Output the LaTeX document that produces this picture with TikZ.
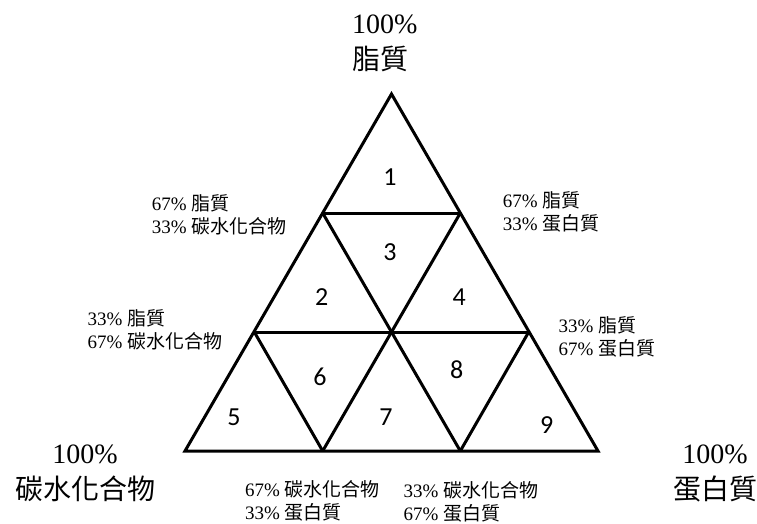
\documentclass[tikz,border=0pt]{standalone}
\usepackage{fontspec}
\setmainfont{Liberation Serif}
\newfontfamily\cjk{Noto Sans CJK TC}
\newfontfamily\numfont{Carlito}
\usetikzlibrary{calc}

\tikzset{
  edge/.style={line width=3pt,line join=miter},
  num/.style={inner sep=0pt,font=\numfont\fontsize{26}{26}\selectfont},
  share/.style={align=left,anchor=west,inner sep=0pt,font=\fontsize{19}{23}\selectfont},
  pure/.style={align=center,inner sep=0pt,font=\fontsize{28}{36}\selectfont}
}

\begin{document}
\begin{tikzpicture}[x=1pt,y=-1pt]
\useasboundingbox (0,0) rectangle (757,524);

% Grid points
\coordinate (top) at (391.5,94);
\coordinate (l1) at (322.7,213); \coordinate (r1) at (460.3,213);
\coordinate (l2) at (254.3,332); \coordinate (m2) at (391.5,332); \coordinate (r2) at (528.7,332);
\coordinate (l3) at (185,451); \coordinate (a3) at (322.7,451);
\coordinate (b3) at (460.3,451); \coordinate (r3) at (598,451);

% Outer triangle and inner lines
\draw[edge] (top) -- (l3) -- (r3) -- cycle;
\draw[edge] (l1) -- (r1);
\draw[edge] (l2) -- (r2);
\draw[edge] (l1) -- (m2) -- (b3);
\draw[edge] (r1) -- (m2) -- (a3);
\draw[edge] (l2) -- (a3);
\draw[edge] (r2) -- (b3);

% Numbers
\node[num] (n1) at (390,177) {1};
\node[num] (n2) at (321.7,296.7) {2};
\node[num] (n3) at (390,251.7) {3};
\node[num] (n4) at (459.3,296.7) {4};
\node[num] (n5) at (234,417.3) {5};
\node[num] (n6) at (320,376.7) {6};
\node[num] (n7) at (386,417.3) {7};
\node[num] (n8) at (456.7,369.3) {8};
\node[num] (n9) at (546.7,425) {9};

% Corners
\node[pure,align=left,anchor=west] (fat) at (352,43.5) {100\%\\{\cjk 脂質}};
\node[pure] (carb) at (85,473.5) {100\%\\{\cjk 碳水化合物}};
\node[pure] (prot) at (715,473.5) {100\%\\{\cjk 蛋白質}};

% Side shares
\node[share] (ul) at (151.7,215) {67\% {\cjk 脂質}\\33\% {\cjk 碳水化合物}};
\node[share] (ml) at (87.3,330) {33\% {\cjk 脂質}\\67\% {\cjk 碳水化合物}};
\node[share] (ur) at (502.7,211.7) {67\% {\cjk 脂質}\\33\% {\cjk 蛋白質}};
\node[share] (mr) at (558.3,336.5) {33\% {\cjk 脂質}\\67\% {\cjk 蛋白質}};
\node[share] (bl) at (245,501) {67\% {\cjk 碳水化合物}\\33\% {\cjk 蛋白質}};
\node[share] (br) at (403.3,502) {33\% {\cjk 碳水化合物}\\67\% {\cjk 蛋白質}};
\end{tikzpicture}
\end{document}
